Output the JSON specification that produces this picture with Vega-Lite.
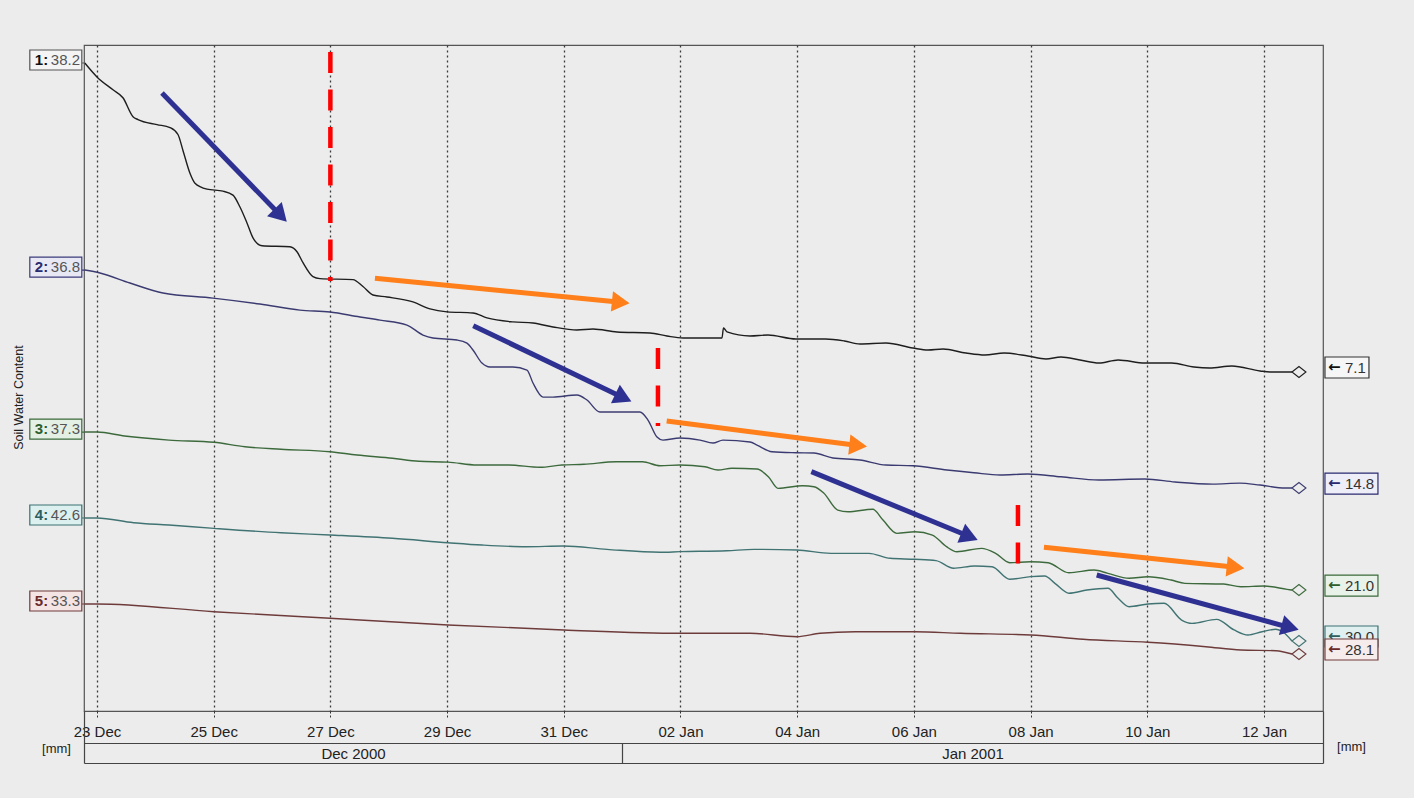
{
"$schema": "https://vega.github.io/schema/vega-lite/v6.json",
"width": 1239, "height": 666,
"autosize": {"type": "none"},
"padding": {"left": 84, "top": 45, "right": 91, "bottom": 87},
"background": "#ECECEC",
"config": {"view": {"stroke": "#555555", "strokeWidth": 1.2}, "font": "Liberation Sans"},
"datasets": {
"soil": [
{"s":1,"t":"2000-12-22T19:00","v":38.2},{"s":1,"t":"2000-12-23T00:00","v":36.8},{"s":1,"t":"2000-12-23T06:35","v":35.5},{"s":1,"t":"2000-12-23T10:41","v":34.7},{"s":1,"t":"2000-12-23T14:49","v":32.8},{"s":1,"t":"2000-12-23T16:52","v":32.5},{"s":1,"t":"2000-12-24T00:41","v":32.0},{"s":1,"t":"2000-12-24T06:02","v":31.7},{"s":1,"t":"2000-12-24T09:19","v":31.0},{"s":1,"t":"2000-12-24T11:22","v":29.4},{"s":1,"t":"2000-12-24T14:15","v":27.1},{"s":1,"t":"2000-12-24T16:18","v":26.1},{"s":1,"t":"2000-12-24T21:15","v":25.5},{"s":1,"t":"2000-12-25T03:50","v":25.3},{"s":1,"t":"2000-12-25T07:56","v":24.9},{"s":1,"t":"2000-12-25T10:49","v":23.7},{"s":1,"t":"2000-12-25T13:42","v":22.1},{"s":1,"t":"2000-12-25T16:10","v":20.6},{"s":1,"t":"2000-12-25T19:52","v":19.8},{"s":1,"t":"2000-12-26T07:23","v":19.7},{"s":1,"t":"2000-12-26T10:16","v":19.2},{"s":1,"t":"2000-12-26T12:44","v":18.1},{"s":1,"t":"2000-12-26T16:50","v":16.7},{"s":1,"t":"2000-12-26T19:43","v":16.5},{"s":1,"t":"2000-12-27T09:18","v":16.4},{"s":1,"t":"2000-12-27T13:25","v":15.7},{"s":1,"t":"2000-12-27T17:31","v":14.85},{"s":1,"t":"2000-12-27T23:17","v":14.65},{"s":1,"t":"2000-12-28T09:58","v":14.15},{"s":1,"t":"2000-12-28T16:58","v":13.45},{"s":1,"t":"2000-12-28T23:58","v":13.15},{"s":1,"t":"2000-12-29T10:39","v":13.04},{"s":1,"t":"2000-12-29T16:25","v":12.54},{"s":1,"t":"2000-12-30T03:06","v":12.14},{"s":1,"t":"2000-12-30T11:20","v":12.03},{"s":1,"t":"2000-12-30T19:34","v":11.63},{"s":1,"t":"2000-12-31T05:26","v":11.33},{"s":1,"t":"2000-12-31T12:01","v":11.43},{"s":1,"t":"2000-12-31T21:53","v":11.13},{"s":1,"t":"2001-01-01T11:27","v":11.03},{"s":1,"t":"2001-01-01T18:26","v":10.72},{"s":1,"t":"2001-01-02T01:01","v":10.52},{"s":1,"t":"2001-01-02T17:04","v":10.52},{"s":1,"t":"2001-01-02T17:41","v":11.53},{"s":1,"t":"2001-01-02T19:08","v":11.13},{"s":1,"t":"2001-01-03T04:35","v":10.72},{"s":1,"t":"2001-01-03T12:00","v":10.82},{"s":1,"t":"2001-01-03T23:30","v":10.42},{"s":1,"t":"2001-01-04T11:36","v":10.42},{"s":1,"t":"2001-01-04T19:28","v":10.22},{"s":1,"t":"2001-01-05T01:48","v":9.92},{"s":1,"t":"2001-01-05T12:30","v":10.02},{"s":1,"t":"2001-01-05T23:36","v":9.51},{"s":1,"t":"2001-01-06T05:48","v":9.31},{"s":1,"t":"2001-01-06T12:00","v":9.41},{"s":1,"t":"2001-01-06T21:24","v":9.01},{"s":1,"t":"2001-01-07T05:12","v":8.81},{"s":1,"t":"2001-01-07T13:06","v":9.01},{"s":1,"t":"2001-01-07T22:54","v":8.71},{"s":1,"t":"2001-01-08T06:18","v":8.41},{"s":1,"t":"2001-01-08T12:30","v":8.61},{"s":1,"t":"2001-01-08T20:18","v":8.31},{"s":1,"t":"2001-01-09T04:06","v":8.0},{"s":1,"t":"2001-01-09T12:00","v":8.31},{"s":1,"t":"2001-01-09T23:00","v":8.0},{"s":1,"t":"2001-01-10T10:00","v":8.0},{"s":1,"t":"2001-01-10T19:12","v":7.6},{"s":1,"t":"2001-01-11T01:36","v":7.5},{"s":1,"t":"2001-01-11T10:48","v":7.7},{"s":1,"t":"2001-01-11T22:24","v":7.2},{"s":1,"t":"2001-01-12T02:30","v":7.1},{"s":1,"t":"2001-01-12T11:30","v":7.1},
{"s":2,"t":"2000-12-22T19:00","v":36.8},{"s":2,"t":"2000-12-23T01:14","v":36.5},{"s":2,"t":"2000-12-23T13:34","v":35.49},{"s":2,"t":"2000-12-24T03:09","v":34.48},{"s":2,"t":"2000-12-24T23:43","v":33.97},{"s":2,"t":"2000-12-25T19:03","v":33.37},{"s":2,"t":"2000-12-26T11:30","v":32.76},{"s":2,"t":"2000-12-26T23:50","v":32.56},{"s":2,"t":"2000-12-27T12:10","v":32.06},{"s":2,"t":"2000-12-27T20:24","v":31.75},{"s":2,"t":"2000-12-28T07:30","v":31.25},{"s":2,"t":"2000-12-28T14:05","v":30.24},{"s":2,"t":"2000-12-28T18:12","v":29.94},{"s":2,"t":"2000-12-29T04:04","v":29.74},{"s":2,"t":"2000-12-29T08:11","v":29.43},{"s":2,"t":"2000-12-29T10:39","v":28.73},{"s":2,"t":"2000-12-29T14:21","v":27.41},{"s":2,"t":"2000-12-29T17:38","v":27.01},{"s":2,"t":"2000-12-30T03:06","v":27.01},{"s":2,"t":"2000-12-30T08:52","v":26.71},{"s":2,"t":"2000-12-30T11:20","v":25.4},{"s":2,"t":"2000-12-30T15:27","v":23.98},{"s":2,"t":"2000-12-30T19:34","v":23.98},{"s":2,"t":"2000-12-31T05:26","v":24.19},{"s":2,"t":"2000-12-31T09:32","v":23.68},{"s":2,"t":"2000-12-31T14:53","v":22.47},{"s":2,"t":"2000-12-31T21:53","v":22.47},{"s":2,"t":"2001-01-01T07:20","v":22.47},{"s":2,"t":"2001-01-01T10:38","v":21.66},{"s":2,"t":"2001-01-01T14:20","v":19.95},{"s":2,"t":"2001-01-01T16:48","v":19.64},{"s":2,"t":"2001-01-01T23:47","v":19.85},{"s":2,"t":"2001-01-02T08:01","v":19.64},{"s":2,"t":"2001-01-02T13:22","v":19.34},{"s":2,"t":"2001-01-02T17:29","v":19.64},{"s":2,"t":"2001-01-03T04:35","v":19.44},{"s":2,"t":"2001-01-03T07:28","v":19.14},{"s":2,"t":"2001-01-03T13:38","v":18.46},{"s":2,"t":"2001-01-03T23:30","v":18.36},{"s":2,"t":"2001-01-04T06:54","v":18.33},{"s":2,"t":"2001-01-04T14:42","v":17.83},{"s":2,"t":"2001-01-05T01:48","v":17.63},{"s":2,"t":"2001-01-05T12:30","v":17.12},{"s":2,"t":"2001-01-05T23:36","v":17.05},{"s":2,"t":"2001-01-06T13:36","v":16.62},{"s":2,"t":"2001-01-07T00:42","v":16.34},{"s":2,"t":"2001-01-07T11:24","v":16.11},{"s":2,"t":"2001-01-07T22:54","v":16.21},{"s":2,"t":"2001-01-08T12:30","v":15.94},{"s":2,"t":"2001-01-09T04:06","v":15.61},{"s":2,"t":"2001-01-09T23:00","v":15.71},{"s":2,"t":"2001-01-10T11:24","v":15.41},{"s":2,"t":"2001-01-11T03:00","v":15.2},{"s":2,"t":"2001-01-11T14:06","v":15.3},{"s":2,"t":"2001-01-11T22:24","v":15.1},{"s":2,"t":"2001-01-12T08:48","v":14.8},{"s":2,"t":"2001-01-12T11:30","v":14.8},
{"s":3,"t":"2000-12-22T19:00","v":37.3},{"s":3,"t":"2000-12-23T00:00","v":37.3},{"s":3,"t":"2000-12-23T11:21","v":36.89},{"s":3,"t":"2000-12-24T05:37","v":36.47},{"s":3,"t":"2000-12-25T00:07","v":36.24},{"s":3,"t":"2000-12-25T12:52","v":35.78},{"s":3,"t":"2000-12-26T03:41","v":35.52},{"s":3,"t":"2000-12-26T23:50","v":35.27},{"s":3,"t":"2000-12-27T10:56","v":34.93},{"s":3,"t":"2000-12-28T01:32","v":34.59},{"s":3,"t":"2000-12-28T12:26","v":34.28},{"s":3,"t":"2000-12-29T00:22","v":34.2},{"s":3,"t":"2000-12-29T12:18","v":33.9},{"s":3,"t":"2000-12-30T01:18","v":33.9},{"s":3,"t":"2000-12-30T14:13","v":33.66},{"s":3,"t":"2000-12-30T23:16","v":33.9},{"s":3,"t":"2000-12-31T08:19","v":33.97},{"s":3,"t":"2000-12-31T21:28","v":34.24},{"s":3,"t":"2001-01-01T08:22","v":34.24},{"s":3,"t":"2001-01-01T15:34","v":33.82},{"s":3,"t":"2001-01-01T23:47","v":33.9},{"s":3,"t":"2001-01-02T10:04","v":33.72},{"s":3,"t":"2001-01-02T15:25","v":33.38},{"s":3,"t":"2001-01-02T21:11","v":33.56},{"s":3,"t":"2001-01-03T07:28","v":33.48},{"s":3,"t":"2001-01-03T12:09","v":32.69},{"s":3,"t":"2001-01-03T16:06","v":31.49},{"s":3,"t":"2001-01-04T02:16","v":31.76},{"s":3,"t":"2001-01-04T06:54","v":31.66},{"s":3,"t":"2001-01-04T10:54","v":31.01},{"s":3,"t":"2001-01-04T16:42","v":29.25},{"s":3,"t":"2001-01-04T20:54","v":29.08},{"s":3,"t":"2001-01-05T07:06","v":29.33},{"s":3,"t":"2001-01-05T11:18","v":28.22},{"s":3,"t":"2001-01-05T17:00","v":26.85},{"s":3,"t":"2001-01-06T00:24","v":27.01},{"s":3,"t":"2001-01-06T07:36","v":26.67},{"s":3,"t":"2001-01-06T13:24","v":25.47},{"s":3,"t":"2001-01-06T17:42","v":24.95},{"s":3,"t":"2001-01-07T03:48","v":25.3},{"s":3,"t":"2001-01-07T09:36","v":24.79},{"s":3,"t":"2001-01-07T15:24","v":23.82},{"s":3,"t":"2001-01-08T00:00","v":23.92},{"s":3,"t":"2001-01-08T07:12","v":23.82},{"s":3,"t":"2001-01-08T15:48","v":22.78},{"s":3,"t":"2001-01-09T02:06","v":23.06},{"s":3,"t":"2001-01-09T07:48","v":22.72},{"s":3,"t":"2001-01-09T16:30","v":22.21},{"s":3,"t":"2001-01-10T00:18","v":22.37},{"s":3,"t":"2001-01-10T09:48","v":22.03},{"s":3,"t":"2001-01-10T15:30","v":21.69},{"s":3,"t":"2001-01-11T07:24","v":21.62},{"s":3,"t":"2001-01-11T14:30","v":21.34},{"s":3,"t":"2001-01-12T00:00","v":21.41},{"s":3,"t":"2001-01-12T09:30","v":21.07},{"s":3,"t":"2001-01-12T11:30","v":21.0},
{"s":4,"t":"2000-12-22T19:00","v":42.6},{"s":4,"t":"2000-12-23T00:00","v":42.6},{"s":4,"t":"2000-12-23T15:03","v":42.12},{"s":4,"t":"2000-12-24T05:37","v":41.88},{"s":4,"t":"2000-12-25T00:07","v":41.54},{"s":4,"t":"2000-12-26T03:41","v":41.09},{"s":4,"t":"2000-12-26T23:50","v":40.86},{"s":4,"t":"2000-12-28T01:32","v":40.52},{"s":4,"t":"2000-12-29T00:22","v":40.07},{"s":4,"t":"2000-12-29T14:21","v":39.83},{"s":4,"t":"2000-12-30T08:27","v":39.66},{"s":4,"t":"2000-12-30T23:53","v":39.73},{"s":4,"t":"2000-12-31T17:46","v":39.39},{"s":4,"t":"2001-01-01T15:34","v":39.09},{"s":4,"t":"2001-01-01T23:47","v":39.15},{"s":4,"t":"2001-01-02T19:08","v":39.25},{"s":4,"t":"2001-01-03T06:14","v":39.39},{"s":4,"t":"2001-01-03T23:54","v":39.32},{"s":4,"t":"2001-01-04T13:48","v":38.98},{"s":4,"t":"2001-01-05T05:30","v":38.98},{"s":4,"t":"2001-01-05T14:12","v":38.47},{"s":4,"t":"2001-01-06T00:24","v":38.37},{"s":4,"t":"2001-01-06T09:06","v":38.23},{"s":4,"t":"2001-01-06T16:18","v":37.45},{"s":4,"t":"2001-01-07T01:00","v":37.68},{"s":4,"t":"2001-01-07T08:06","v":37.61},{"s":4,"t":"2001-01-07T15:24","v":36.32},{"s":4,"t":"2001-01-08T00:00","v":36.59},{"s":4,"t":"2001-01-08T05:48","v":36.66},{"s":4,"t":"2001-01-08T10:00","v":35.91},{"s":4,"t":"2001-01-08T15:48","v":34.89},{"s":4,"t":"2001-01-08T23:12","v":35.22},{"s":4,"t":"2001-01-09T07:48","v":35.4},{"s":4,"t":"2001-01-09T12:00","v":34.37},{"s":4,"t":"2001-01-09T16:30","v":33.51},{"s":4,"t":"2001-01-10T00:18","v":33.79},{"s":4,"t":"2001-01-10T06:54","v":33.86},{"s":4,"t":"2001-01-10T14:06","v":32.15},{"s":4,"t":"2001-01-10T18:24","v":31.81},{"s":4,"t":"2001-01-11T04:30","v":32.22},{"s":4,"t":"2001-01-11T11:42","v":31.13},{"s":4,"t":"2001-01-11T17:24","v":30.61},{"s":4,"t":"2001-01-11T23:12","v":30.95},{"s":4,"t":"2001-01-12T04:54","v":31.2},{"s":4,"t":"2001-01-12T07:48","v":30.92},{"s":4,"t":"2001-01-12T11:30","v":30.0},
{"s":5,"t":"2000-12-22T19:00","v":33.3},{"s":5,"t":"2000-12-23T00:00","v":33.3},{"s":5,"t":"2000-12-25T00:07","v":32.5},{"s":5,"t":"2000-12-26T23:50","v":31.81},{"s":5,"t":"2000-12-29T00:22","v":31.12},{"s":5,"t":"2000-12-30T23:53","v":30.6},{"s":5,"t":"2001-01-01T23:47","v":30.25},{"s":5,"t":"2001-01-03T04:35","v":30.25},{"s":5,"t":"2001-01-03T23:54","v":29.9},{"s":5,"t":"2001-01-04T09:24","v":30.25},{"s":5,"t":"2001-01-04T23:48","v":30.42},{"s":5,"t":"2001-01-06T00:24","v":30.42},{"s":5,"t":"2001-01-06T19:12","v":30.25},{"s":5,"t":"2001-01-08T00:00","v":30.08},{"s":5,"t":"2001-01-08T21:36","v":29.63},{"s":5,"t":"2001-01-10T00:18","v":29.32},{"s":5,"t":"2001-01-11T00:06","v":28.86},{"s":5,"t":"2001-01-11T14:30","v":28.52},{"s":5,"t":"2001-01-12T04:54","v":28.44},{"s":5,"t":"2001-01-12T11:30","v":28.1}
],
"ends": [
{"s":1,"side":"start","t":"2000-12-22T19:00","v":38.2},{"s":1,"side":"end","t":"2001-01-12T11:30","v":7.1},
{"s":2,"side":"start","t":"2000-12-22T19:00","v":36.8},{"s":2,"side":"end","t":"2001-01-12T11:30","v":14.8},
{"s":3,"side":"start","t":"2000-12-22T19:00","v":37.3},{"s":3,"side":"end","t":"2001-01-12T11:30","v":21.0},
{"s":4,"side":"start","t":"2000-12-22T19:00","v":42.6},{"s":4,"side":"end","t":"2001-01-12T11:30","v":30.0},
{"s":5,"side":"start","t":"2000-12-22T19:00","v":33.3},{"s":5,"side":"end","t":"2001-01-12T11:30","v":28.1}
],
"annot": [
{"id":"R1","t":"2000-12-27T00:00","v1":39.31,"v2":16.26},
{"id":"R2","t":"2001-01-01T14:44","v1":9.52,"v2":1.67},
{"id":"R3","t":"2001-01-07T18:48","v1":-6.29,"v2":-12.22}
],
"arrows": [
{"id":"B1","kind":"blue","t1":"2000-12-24T02:44","v1":35.18,"t2":"2000-12-26T03:31","v2":22.86},
{"id":"B2","kind":"blue","t1":"2000-12-29T10:46","v1":11.76,"t2":"2001-01-01T00:31","v2":4.51},
{"id":"B3","kind":"blue","t1":"2001-01-04T05:50","v1":-2.93,"t2":"2001-01-06T22:52","v2":-9.46},
{"id":"B4","kind":"blue","t1":"2001-01-09T03:12","v1":-13.33,"t2":"2001-01-12T10:44","v2":-18.62},
{"id":"O1","kind":"orange","t1":"2000-12-27T18:20","v1":16.53,"t2":"2000-12-31T23:26","v2":14.11},
{"id":"O2","kind":"orange","t1":"2001-01-01T18:19","v1":2.17,"t2":"2001-01-05T01:05","v2":-0.3},
{"id":"O3","kind":"orange","t1":"2001-01-08T05:30","v1":-10.54,"t2":"2001-01-11T12:18","v2":-12.56}
]
},
"layer": [
{"data":{"name":"soil"},"transform":[{"filter":"datum.s==1"}],
 "mark":{"type":"line","color":"#1E1E1E","strokeWidth":1.4,"interpolate":"monotone"},
 "encoding":{
  "x":{"field":"t","type":"temporal","scale":{"domain":[{"year":2000,"month":12,"date":22,"hours":18,"minutes":40},{"year":2001,"month":1,"date":13,"hours":0,"minutes":16}]},
   "axis":{"orient":"bottom","title":null,"values":[{"year":2000,"month":12,"date":23},{"year":2000,"month":12,"date":25},{"year":2000,"month":12,"date":27},{"year":2000,"month":12,"date":29},{"year":2000,"month":12,"date":31},{"year":2001,"month":1,"date":2},{"year":2001,"month":1,"date":4},{"year":2001,"month":1,"date":6},{"year":2001,"month":1,"date":8},{"year":2001,"month":1,"date":10},{"year":2001,"month":1,"date":12}],
    "format":"%d %b","grid":true,"gridDash":[2,3],"gridColor":"#3A3A3A","gridWidth":1.3,"gridOpacity":1,"domain":false,"ticks":true,"tickSize":7,"tickColor":"#333333","tickDash":[2,2],"labelFont":"Liberation Sans","labelFontSize":15,"labelColor":"#222222","labelBaseline":"middle","labelPadding":13.5,"labelFlush":false,"labelOverlap":false}},
  "y":{"field":"v","type":"quantitative","scale":{"domain":[-27.02,40.01],"zero":false,"nice":false},
   "axis":{"orient":"left","title":"Soil Water Content","labels":false,"ticks":false,"domain":false,"grid":false,"titleX":-66,"titleY":352,"titleAngle":-90,"titleAlign":"center","titleBaseline":"middle","titleFont":"Liberation Sans","titleFontSize":12.5,"titleFontWeight":"normal","titleColor":"#222222"}}}},
{"data":{"name":"ends"},"transform":[{"filter":"datum.s==1 && datum.side=='start'"}],
 "mark":{"type":"point","shape":"M-55,-13H-3V7H-55ZM-3,0H0","size":4,"filled":true,"fill":"#F4F4F4","stroke":"#555555","strokeWidth":1.2,"opacity":1},
 "encoding":{"x":{"field":"t","type":"temporal","axis":null},"y":{"field":"v","type":"quantitative","scale":{"domain":[-27.02,40.01],"zero":false,"nice":false},"axis":null}}},
{"data":{"name":"ends"},"transform":[{"filter":"datum.s==1 && datum.side=='start'"}],
 "mark":{"type":"text","text":"1:","align":"left","baseline":"middle","dx":-50,"dy":-3,"font":"Liberation Sans","fontSize":15,"fontWeight":"bold","color":"#111111"},
 "encoding":{"x":{"field":"t","type":"temporal","axis":null},"y":{"field":"v","type":"quantitative","scale":{"domain":[-27.02,40.01],"zero":false,"nice":false},"axis":null}}},
{"data":{"name":"ends"},"transform":[{"filter":"datum.s==1 && datum.side=='start'"}],
 "mark":{"type":"text","align":"left","baseline":"middle","dx":-34,"dy":-3,"font":"Liberation Sans","fontSize":15,"color":"#555555"},
 "encoding":{"x":{"field":"t","type":"temporal","axis":null},"y":{"field":"v","type":"quantitative","scale":{"domain":[-27.02,40.01],"zero":false,"nice":false},"axis":null},"text":{"field":"v","type":"quantitative","format":".1f"}}},
{"data":{"name":"ends"},"transform":[{"filter":"datum.s==1 && datum.side=='end'"}],
 "mark":{"type":"point","shape":"M0,0L7,-5.5L14,0L7,5.5Z","size":4,"filled":true,"fill":"#ECECEC","stroke":"#1E1E1E","strokeWidth":1.1,"opacity":1},
 "encoding":{"x":{"field":"t","type":"temporal","axis":null},"y":{"field":"v","type":"quantitative","scale":{"domain":[-27.02,40.01],"zero":false,"nice":false},"axis":null}}},
{"data":{"name":"ends"},"transform":[{"filter":"datum.s==1 && datum.side=='end'"}],
 "mark":{"type":"point","shape":"M33,-15H77V6H33Z","size":4,"filled":true,"fill":"#F6F6F6","stroke":"#333333","strokeWidth":1.2,"opacity":1},
 "encoding":{"x":{"field":"t","type":"temporal","axis":null},"y":{"field":"v","type":"quantitative","scale":{"domain":[-27.02,40.01],"zero":false,"nice":false},"axis":null}}},
{"data":{"name":"ends"},"transform":[{"filter":"datum.s==1 && datum.side=='end'"}],
 "mark":{"type":"text","text":"←","align":"left","baseline":"middle","dx":36,"dy":-5,"font":"DejaVu Sans","fontSize":15,"fontWeight":"bold","color":"#111111"},
 "encoding":{"x":{"field":"t","type":"temporal","axis":null},"y":{"field":"v","type":"quantitative","scale":{"domain":[-27.02,40.01],"zero":false,"nice":false},"axis":null}}},
{"data":{"name":"ends"},"transform":[{"filter":"datum.s==1 && datum.side=='end'"}],
 "mark":{"type":"text","align":"left","baseline":"middle","dx":53,"dy":-4,"font":"Liberation Sans","fontSize":15,"color":"#333333"},
 "encoding":{"x":{"field":"t","type":"temporal","axis":null},"y":{"field":"v","type":"quantitative","scale":{"domain":[-27.02,40.01],"zero":false,"nice":false},"axis":null},"text":{"field":"v","type":"quantitative","format":".1f"}}},

{"data":{"name":"soil"},"transform":[{"filter":"datum.s==2"}],
 "mark":{"type":"line","color":"#3B3B72","strokeWidth":1.4,"interpolate":"monotone"},
 "encoding":{
  "x":{"field":"t","type":"temporal","axis":null},
  "y":{"field":"v","type":"quantitative","scale":{"domain":[-7.70,59.51],"zero":false,"nice":false},
   "axis":{"orient":"left","title":"[mm]","labels":false,"ticks":false,"domain":false,"grid":false,"titleX":-28,"titleY":703,"titleAngle":0,"titleAlign":"center","titleBaseline":"middle","titleFont":"Liberation Sans","titleFontSize":13,"titleFontWeight":"normal","titleColor":"#222222"}}}},
{"data":{"name":"ends"},"transform":[{"filter":"datum.s==2 && datum.side=='start'"}],
 "mark":{"type":"point","shape":"M-55,-13H-3V7H-55ZM-3,0H0","size":4,"filled":true,"fill":"#E8E8F4","stroke":"#3B3B7A","strokeWidth":1.2,"opacity":1},
 "encoding":{"x":{"field":"t","type":"temporal","axis":null},"y":{"field":"v","type":"quantitative","scale":{"domain":[-7.70,59.51],"zero":false,"nice":false},"axis":null}}},
{"data":{"name":"ends"},"transform":[{"filter":"datum.s==2 && datum.side=='start'"}],
 "mark":{"type":"text","text":"2:","align":"left","baseline":"middle","dx":-50,"dy":-3,"font":"Liberation Sans","fontSize":15,"fontWeight":"bold","color":"#2A2A70"},
 "encoding":{"x":{"field":"t","type":"temporal","axis":null},"y":{"field":"v","type":"quantitative","scale":{"domain":[-7.70,59.51],"zero":false,"nice":false},"axis":null}}},
{"data":{"name":"ends"},"transform":[{"filter":"datum.s==2 && datum.side=='start'"}],
 "mark":{"type":"text","align":"left","baseline":"middle","dx":-34,"dy":-3,"font":"Liberation Sans","fontSize":15,"color":"#555555"},
 "encoding":{"x":{"field":"t","type":"temporal","axis":null},"y":{"field":"v","type":"quantitative","scale":{"domain":[-7.70,59.51],"zero":false,"nice":false},"axis":null},"text":{"field":"v","type":"quantitative","format":".1f"}}},
{"data":{"name":"ends"},"transform":[{"filter":"datum.s==2 && datum.side=='end'"}],
 "mark":{"type":"point","shape":"M0,0L7,-5.5L14,0L7,5.5Z","size":4,"filled":true,"fill":"#ECECEC","stroke":"#3B3B72","strokeWidth":1.1,"opacity":1},
 "encoding":{"x":{"field":"t","type":"temporal","axis":null},"y":{"field":"v","type":"quantitative","scale":{"domain":[-7.70,59.51],"zero":false,"nice":false},"axis":null}}},
{"data":{"name":"ends"},"transform":[{"filter":"datum.s==2 && datum.side=='end'"}],
 "mark":{"type":"point","shape":"M33,-15H86V6H33Z","size":4,"filled":true,"fill":"#EEEEF8","stroke":"#2A2A70","strokeWidth":1.2,"opacity":1},
 "encoding":{"x":{"field":"t","type":"temporal","axis":null},"y":{"field":"v","type":"quantitative","scale":{"domain":[-7.70,59.51],"zero":false,"nice":false},"axis":null}}},
{"data":{"name":"ends"},"transform":[{"filter":"datum.s==2 && datum.side=='end'"}],
 "mark":{"type":"text","text":"←","align":"left","baseline":"middle","dx":36,"dy":-5,"font":"DejaVu Sans","fontSize":15,"fontWeight":"bold","color":"#2A2A70"},
 "encoding":{"x":{"field":"t","type":"temporal","axis":null},"y":{"field":"v","type":"quantitative","scale":{"domain":[-7.70,59.51],"zero":false,"nice":false},"axis":null}}},
{"data":{"name":"ends"},"transform":[{"filter":"datum.s==2 && datum.side=='end'"}],
 "mark":{"type":"text","align":"left","baseline":"middle","dx":53,"dy":-4,"font":"Liberation Sans","fontSize":15,"color":"#333333"},
 "encoding":{"x":{"field":"t","type":"temporal","axis":null},"y":{"field":"v","type":"quantitative","scale":{"domain":[-7.70,59.51],"zero":false,"nice":false},"axis":null},"text":{"field":"v","type":"quantitative","format":".1f"}}},

{"data":{"name":"soil"},"transform":[{"filter":"datum.s==3"}],
 "mark":{"type":"line","color":"#3D6A3D","strokeWidth":1.4,"interpolate":"monotone"},
 "encoding":{
  "x":{"field":"t","type":"temporal","axis":null},
  "y":{"field":"v","type":"quantitative","scale":{"domain":[8.52,77.23],"zero":false,"nice":false},
   "axis":{"orient":"right","title":"[mm]","labels":false,"ticks":false,"domain":false,"grid":false,"titleX":28,"titleY":701,"titleAngle":0,"titleAlign":"center","titleBaseline":"middle","titleFont":"Liberation Sans","titleFontSize":13,"titleFontWeight":"normal","titleColor":"#222222"}}}},
{"data":{"name":"ends"},"transform":[{"filter":"datum.s==3 && datum.side=='start'"}],
 "mark":{"type":"point","shape":"M-55,-13H-3V7H-55ZM-3,0H0","size":4,"filled":true,"fill":"#E4F0E4","stroke":"#3A6A3A","strokeWidth":1.2,"opacity":1},
 "encoding":{"x":{"field":"t","type":"temporal","axis":null},"y":{"field":"v","type":"quantitative","scale":{"domain":[8.52,77.23],"zero":false,"nice":false},"axis":null}}},
{"data":{"name":"ends"},"transform":[{"filter":"datum.s==3 && datum.side=='start'"}],
 "mark":{"type":"text","text":"3:","align":"left","baseline":"middle","dx":-50,"dy":-3,"font":"Liberation Sans","fontSize":15,"fontWeight":"bold","color":"#2E5E2E"},
 "encoding":{"x":{"field":"t","type":"temporal","axis":null},"y":{"field":"v","type":"quantitative","scale":{"domain":[8.52,77.23],"zero":false,"nice":false},"axis":null}}},
{"data":{"name":"ends"},"transform":[{"filter":"datum.s==3 && datum.side=='start'"}],
 "mark":{"type":"text","align":"left","baseline":"middle","dx":-34,"dy":-3,"font":"Liberation Sans","fontSize":15,"color":"#555555"},
 "encoding":{"x":{"field":"t","type":"temporal","axis":null},"y":{"field":"v","type":"quantitative","scale":{"domain":[8.52,77.23],"zero":false,"nice":false},"axis":null},"text":{"field":"v","type":"quantitative","format":".1f"}}},
{"data":{"name":"ends"},"transform":[{"filter":"datum.s==3 && datum.side=='end'"}],
 "mark":{"type":"point","shape":"M0,0L7,-5.5L14,0L7,5.5Z","size":4,"filled":true,"fill":"#ECECEC","stroke":"#3D6A3D","strokeWidth":1.1,"opacity":1},
 "encoding":{"x":{"field":"t","type":"temporal","axis":null},"y":{"field":"v","type":"quantitative","scale":{"domain":[8.52,77.23],"zero":false,"nice":false},"axis":null}}},
{"data":{"name":"ends"},"transform":[{"filter":"datum.s==3 && datum.side=='end'"}],
 "mark":{"type":"point","shape":"M33,-15H86V6H33Z","size":4,"filled":true,"fill":"#E8F2E8","stroke":"#3A6A3A","strokeWidth":1.2,"opacity":1},
 "encoding":{"x":{"field":"t","type":"temporal","axis":null},"y":{"field":"v","type":"quantitative","scale":{"domain":[8.52,77.23],"zero":false,"nice":false},"axis":null}}},
{"data":{"name":"ends"},"transform":[{"filter":"datum.s==3 && datum.side=='end'"}],
 "mark":{"type":"text","text":"←","align":"left","baseline":"middle","dx":36,"dy":-5,"font":"DejaVu Sans","fontSize":15,"fontWeight":"bold","color":"#2E5E2E"},
 "encoding":{"x":{"field":"t","type":"temporal","axis":null},"y":{"field":"v","type":"quantitative","scale":{"domain":[8.52,77.23],"zero":false,"nice":false},"axis":null}}},
{"data":{"name":"ends"},"transform":[{"filter":"datum.s==3 && datum.side=='end'"}],
 "mark":{"type":"text","align":"left","baseline":"middle","dx":53,"dy":-4,"font":"Liberation Sans","fontSize":15,"color":"#333333"},
 "encoding":{"x":{"field":"t","type":"temporal","axis":null},"y":{"field":"v","type":"quantitative","scale":{"domain":[8.52,77.23],"zero":false,"nice":false},"axis":null},"text":{"field":"v","type":"quantitative","format":".1f"}}},

{"data":{"name":"soil"},"transform":[{"filter":"datum.s==4"}],
 "mark":{"type":"line","color":"#417373","strokeWidth":1.4,"interpolate":"monotone"},
 "encoding":{
  "x":{"field":"t","type":"temporal","axis":null},
  "y":{"field":"v","type":"quantitative","scale":{"domain":[22.83,91.05],"zero":false,"nice":false},"axis":null}}},
{"data":{"name":"ends"},"transform":[{"filter":"datum.s==4 && datum.side=='start'"}],
 "mark":{"type":"point","shape":"M-55,-13H-3V7H-55ZM-3,0H0","size":4,"filled":true,"fill":"#DDF0F0","stroke":"#3A7070","strokeWidth":1.2,"opacity":1},
 "encoding":{"x":{"field":"t","type":"temporal","axis":null},"y":{"field":"v","type":"quantitative","scale":{"domain":[22.83,91.05],"zero":false,"nice":false},"axis":null}}},
{"data":{"name":"ends"},"transform":[{"filter":"datum.s==4 && datum.side=='start'"}],
 "mark":{"type":"text","text":"4:","align":"left","baseline":"middle","dx":-50,"dy":-3,"font":"Liberation Sans","fontSize":15,"fontWeight":"bold","color":"#2E5E5E"},
 "encoding":{"x":{"field":"t","type":"temporal","axis":null},"y":{"field":"v","type":"quantitative","scale":{"domain":[22.83,91.05],"zero":false,"nice":false},"axis":null}}},
{"data":{"name":"ends"},"transform":[{"filter":"datum.s==4 && datum.side=='start'"}],
 "mark":{"type":"text","align":"left","baseline":"middle","dx":-34,"dy":-3,"font":"Liberation Sans","fontSize":15,"color":"#555555"},
 "encoding":{"x":{"field":"t","type":"temporal","axis":null},"y":{"field":"v","type":"quantitative","scale":{"domain":[22.83,91.05],"zero":false,"nice":false},"axis":null},"text":{"field":"v","type":"quantitative","format":".1f"}}},
{"data":{"name":"ends"},"transform":[{"filter":"datum.s==4 && datum.side=='end'"}],
 "mark":{"type":"point","shape":"M0,0L7,-5.5L14,0L7,5.5Z","size":4,"filled":true,"fill":"#ECECEC","stroke":"#417373","strokeWidth":1.1,"opacity":1},
 "encoding":{"x":{"field":"t","type":"temporal","axis":null},"y":{"field":"v","type":"quantitative","scale":{"domain":[22.83,91.05],"zero":false,"nice":false},"axis":null}}},
{"data":{"name":"ends"},"transform":[{"filter":"datum.s==4 && datum.side=='end'"}],
 "mark":{"type":"point","shape":"M33,-15H86V6H33Z","size":4,"filled":true,"fill":"#E0F0F0","stroke":"#3A7070","strokeWidth":1.2,"opacity":1},
 "encoding":{"x":{"field":"t","type":"temporal","axis":null},"y":{"field":"v","type":"quantitative","scale":{"domain":[22.83,91.05],"zero":false,"nice":false},"axis":null}}},
{"data":{"name":"ends"},"transform":[{"filter":"datum.s==4 && datum.side=='end'"}],
 "mark":{"type":"text","text":"←","align":"left","baseline":"middle","dx":36,"dy":-5,"font":"DejaVu Sans","fontSize":15,"fontWeight":"bold","color":"#2E5E5E"},
 "encoding":{"x":{"field":"t","type":"temporal","axis":null},"y":{"field":"v","type":"quantitative","scale":{"domain":[22.83,91.05],"zero":false,"nice":false},"axis":null}}},
{"data":{"name":"ends"},"transform":[{"filter":"datum.s==4 && datum.side=='end'"}],
 "mark":{"type":"text","align":"left","baseline":"middle","dx":53,"dy":-4,"font":"Liberation Sans","fontSize":15,"color":"#333333"},
 "encoding":{"x":{"field":"t","type":"temporal","axis":null},"y":{"field":"v","type":"quantitative","scale":{"domain":[22.83,91.05],"zero":false,"nice":false},"axis":null},"text":{"field":"v","type":"quantitative","format":".1f"}}},

{"data":{"name":"soil"},"transform":[{"filter":"datum.s==5"}],
 "mark":{"type":"line","color":"#6E3B3B","strokeWidth":1.4,"interpolate":"monotone"},
 "encoding":{
  "x":{"field":"t","type":"temporal","axis":null},
  "y":{"field":"v","type":"quantitative","scale":{"domain":[22.17,91.44],"zero":false,"nice":false},"axis":null}}},
{"data":{"name":"ends"},"transform":[{"filter":"datum.s==5 && datum.side=='start'"}],
 "mark":{"type":"point","shape":"M-55,-13H-3V7H-55ZM-3,0H0","size":4,"filled":true,"fill":"#F4E4E4","stroke":"#703A3A","strokeWidth":1.2,"opacity":1},
 "encoding":{"x":{"field":"t","type":"temporal","axis":null},"y":{"field":"v","type":"quantitative","scale":{"domain":[22.17,91.44],"zero":false,"nice":false},"axis":null}}},
{"data":{"name":"ends"},"transform":[{"filter":"datum.s==5 && datum.side=='start'"}],
 "mark":{"type":"text","text":"5:","align":"left","baseline":"middle","dx":-50,"dy":-3,"font":"Liberation Sans","fontSize":15,"fontWeight":"bold","color":"#6A2A2A"},
 "encoding":{"x":{"field":"t","type":"temporal","axis":null},"y":{"field":"v","type":"quantitative","scale":{"domain":[22.17,91.44],"zero":false,"nice":false},"axis":null}}},
{"data":{"name":"ends"},"transform":[{"filter":"datum.s==5 && datum.side=='start'"}],
 "mark":{"type":"text","align":"left","baseline":"middle","dx":-34,"dy":-3,"font":"Liberation Sans","fontSize":15,"color":"#555555"},
 "encoding":{"x":{"field":"t","type":"temporal","axis":null},"y":{"field":"v","type":"quantitative","scale":{"domain":[22.17,91.44],"zero":false,"nice":false},"axis":null},"text":{"field":"v","type":"quantitative","format":".1f"}}},
{"data":{"name":"ends"},"transform":[{"filter":"datum.s==5 && datum.side=='end'"}],
 "mark":{"type":"point","shape":"M0,0L7,-5.5L14,0L7,5.5Z","size":4,"filled":true,"fill":"#ECECEC","stroke":"#6E3B3B","strokeWidth":1.1,"opacity":1},
 "encoding":{"x":{"field":"t","type":"temporal","axis":null},"y":{"field":"v","type":"quantitative","scale":{"domain":[22.17,91.44],"zero":false,"nice":false},"axis":null}}},
{"data":{"name":"ends"},"transform":[{"filter":"datum.s==5 && datum.side=='end'"}],
 "mark":{"type":"point","shape":"M33,-15H86V6H33Z","size":4,"filled":true,"fill":"#F6ECEC","stroke":"#703A3A","strokeWidth":1.2,"opacity":1},
 "encoding":{"x":{"field":"t","type":"temporal","axis":null},"y":{"field":"v","type":"quantitative","scale":{"domain":[22.17,91.44],"zero":false,"nice":false},"axis":null}}},
{"data":{"name":"ends"},"transform":[{"filter":"datum.s==5 && datum.side=='end'"}],
 "mark":{"type":"text","text":"←","align":"left","baseline":"middle","dx":36,"dy":-5,"font":"DejaVu Sans","fontSize":15,"fontWeight":"bold","color":"#6A2A2A"},
 "encoding":{"x":{"field":"t","type":"temporal","axis":null},"y":{"field":"v","type":"quantitative","scale":{"domain":[22.17,91.44],"zero":false,"nice":false},"axis":null}}},
{"data":{"name":"ends"},"transform":[{"filter":"datum.s==5 && datum.side=='end'"}],
 "mark":{"type":"text","align":"left","baseline":"middle","dx":53,"dy":-4,"font":"Liberation Sans","fontSize":15,"color":"#333333"},
 "encoding":{"x":{"field":"t","type":"temporal","axis":null},"y":{"field":"v","type":"quantitative","scale":{"domain":[22.17,91.44],"zero":false,"nice":false},"axis":null},"text":{"field":"v","type":"quantitative","format":".1f"}}},

{"data":{"name":"annot"},
 "mark":{"type":"rule","color":"#FF0000","strokeWidth":4.5,"strokeDash":[21,16.5]},
 "encoding":{
  "x":{"field":"t","type":"temporal",
   "axis":{"orient":"bottom","offset":32,"title":null,"values":[{"year":2000,"month":12,"date":27,"hours":9,"minutes":18},{"year":2001,"month":1,"date":1},{"year":2001,"month":1,"date":7,"hours":0,"minutes":6}],
    "labelExpr":"date(datum.value) == 1 ? '' : timeFormat(datum.value, '%b %Y')","grid":false,"domain":true,"domainColor":"#444444","domainWidth":1.2,"ticks":true,"tickSize":20,"tickColor":"#444444","tickWidth":1.2,
    "tickOpacity":{"condition":{"test":"date(datum.value) == 1","value":1},"value":0},
    "labelFont":"Liberation Sans","labelFontSize":15,"labelColor":"#222222","labelBaseline":"middle","labelPadding":-10,"labelFlush":false,"labelOverlap":false}},
  "y":{"field":"v1","type":"quantitative","scale":{"domain":[-27.02,40.01],"zero":false,"nice":false},"axis":null},
  "y2":{"field":"v2"}}},
{"data":{"name":"arrows"},"transform":[{"filter":"datum.kind=='orange'"}],
 "mark":{"type":"rule","color":"#FF7F1A","strokeWidth":5},
 "encoding":{
  "x":{"field":"t1","type":"temporal",
   "axis":{"orient":"bottom","offset":52,"title":null,"grid":false,"domain":true,"domainColor":"#444444","domainWidth":1.2,"ticks":false,"labels":false}},
  "x2":{"field":"t2"},
  "y":{"field":"v1","type":"quantitative","scale":{"domain":[-27.02,40.01],"zero":false,"nice":false},"axis":null},
  "y2":{"field":"v2"}}},
{"data":{"name":"arrows"},"transform":[{"filter":"datum.kind=='orange'"}],
 "mark":{"type":"point","shape":"triangle-up","angle":96,"size":420,"filled":true,"color":"#FF7F1A","opacity":1,"strokeWidth":0},
 "encoding":{
  "x":{"field":"t2","type":"temporal","axis":null},
  "y":{"field":"v2","type":"quantitative","scale":{"domain":[-27.02,40.01],"zero":false,"nice":false},"axis":null}}},
{"data":{"name":"arrows"},"transform":[{"filter":"datum.kind=='blue'"}],
 "mark":{"type":"rule","color":"#2E3192","strokeWidth":5},
 "encoding":{
  "x":{"field":"t1","type":"temporal",
   "axis":{"orient":"bottom","offset":0,"title":null,"values":[{"year":2000,"month":12,"date":22,"hours":18,"minutes":40},{"year":2001,"month":1,"date":13,"hours":0,"minutes":16}],"grid":false,"domain":false,"ticks":true,"tickSize":52,"tickColor":"#444444","tickWidth":1.2,"labels":false}},
  "x2":{"field":"t2"},
  "y":{"field":"v1","type":"quantitative","scale":{"domain":[-27.02,40.01],"zero":false,"nice":false},"axis":null},
  "y2":{"field":"v2"}}},
{"data":{"name":"arrows"},"transform":[{"filter":"datum.id=='B1'"}],
 "mark":{"type":"point","shape":"triangle-up","angle":136,"size":420,"filled":true,"color":"#2E3192","opacity":1,"strokeWidth":0},
 "encoding":{"x":{"field":"t2","type":"temporal","axis":null},"y":{"field":"v2","type":"quantitative","scale":{"domain":[-27.02,40.01],"zero":false,"nice":false},"axis":null}}},
{"data":{"name":"arrows"},"transform":[{"filter":"datum.id=='B2'"}],
 "mark":{"type":"point","shape":"triangle-up","angle":115.6,"size":420,"filled":true,"color":"#2E3192","opacity":1,"strokeWidth":0},
 "encoding":{"x":{"field":"t2","type":"temporal","axis":null},"y":{"field":"v2","type":"quantitative","scale":{"domain":[-27.02,40.01],"zero":false,"nice":false},"axis":null}}},
{"data":{"name":"arrows"},"transform":[{"filter":"datum.id=='B3'"}],
 "mark":{"type":"point","shape":"triangle-up","angle":112.3,"size":420,"filled":true,"color":"#2E3192","opacity":1,"strokeWidth":0},
 "encoding":{"x":{"field":"t2","type":"temporal","axis":null},"y":{"field":"v2","type":"quantitative","scale":{"domain":[-27.02,40.01],"zero":false,"nice":false},"axis":null}}},
{"data":{"name":"arrows"},"transform":[{"filter":"datum.id=='B4'"}],
 "mark":{"type":"point","shape":"triangle-up","angle":105.2,"size":420,"filled":true,"color":"#2E3192","opacity":1,"strokeWidth":0},
 "encoding":{"x":{"field":"t2","type":"temporal","axis":null},"y":{"field":"v2","type":"quantitative","scale":{"domain":[-27.02,40.01],"zero":false,"nice":false},"axis":null}}}
],
"resolve": {"scale": {"y": "independent"}, "axis": {"x": "independent", "y": "independent"}}
}
